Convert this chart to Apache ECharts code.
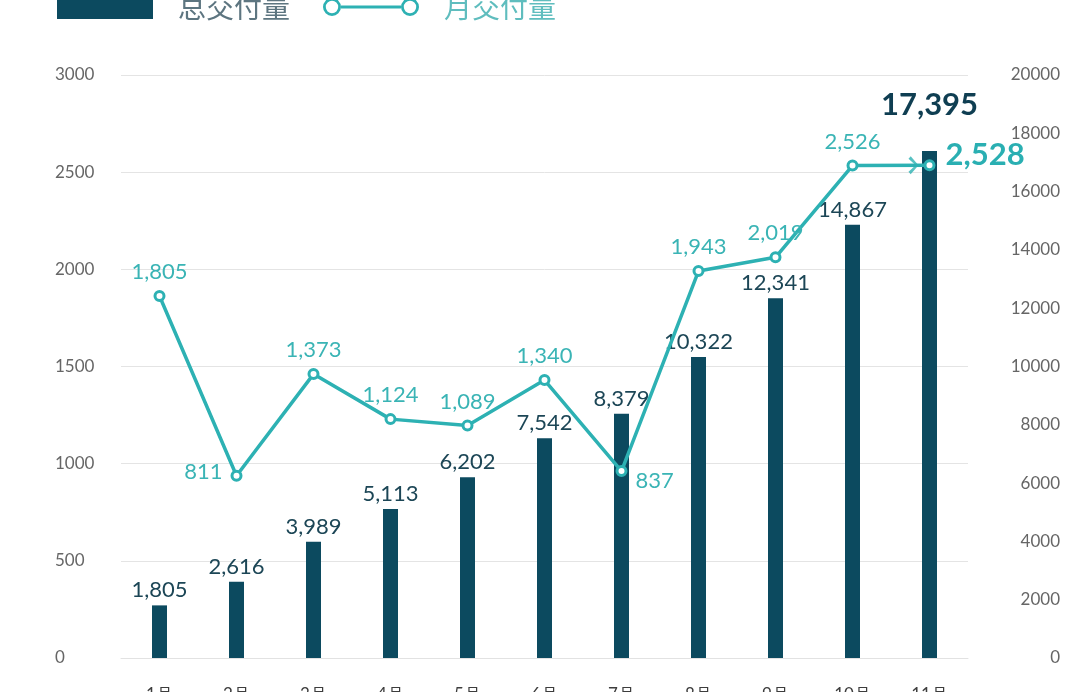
<!DOCTYPE html>
<html>
<head>
<meta charset="utf-8">
<script src="https://cdn.jsdelivr.net/npm/echarts@6/dist/echarts.min.js"></script>
<style>
html,body{margin:0;padding:0;background:#fff;}
#chart{width:1080px;height:692px;}
</style>
</head>
<body>
<div id="chart"></div>
<script>
// ---- data ----
const months = ['1月','2月','3月','4月','5月','6月','7月','8月','9月','10月','11月'];
const totalDeliveries = [1805, 2616, 3989, 5113, 6202, 7542, 8379, 10322, 12341, 14867, 17395];
const monthlyDeliveries = [1805, 811, 1373, 1124, 1089, 1340, 837, 1943, 2019, 2526, 2528];
const seriesNames = ['总交付量', '月交付量'];
const leftAxisRange = [0, 3000, 500];
const rightAxisRange = [0, 20000, 2000];

// ---- styles ----
const BAR_COLOR = '#0c4a5f';
const LINE_COLOR = '#2db1b3';
const NUM_FONT = 'Lato, "Noto Sans", sans-serif';
const CJK_FONT = '"Noto Sans CJK SC", sans-serif';
const fmt = v => Number(v).toLocaleString('en-US');

const ringIcon = 'path://M0,9 A9,9 0 1 1 18,9 A9,9 0 1 1 0,9 Z M2.8,9 A6.2,6.2 0 1 0 15.2,9 A6.2,6.2 0 1 0 2.8,9 Z ' +
  'M18,7.4 L78,7.4 L78,10.6 L18,10.6 Z ' +
  'M78,9 A9,9 0 1 1 96,9 A9,9 0 1 1 78,9 Z M80.8,9 A6.2,6.2 0 1 0 93.2,9 A6.2,6.2 0 1 0 80.8,9 Z';
const chevronIcon = 'path://M0,2.4 L2.2,0 L10,9 L2.2,18 L0,15.6 L7.2,9 Z';

const lastIdx = totalDeliveries.length - 1;
const barData = totalDeliveries.map((v, i) => i === lastIdx
  ? { value: v, label: { fontSize: 31, fontWeight: 'bold', color: '#0f3e52', distance: 30 } }
  : v);

const lineLabelOverrides = {
  1: { position: 'left', distance: 8, offset: [0, -4] },
  6: { position: 'right', distance: 8, offset: [0, 10] },
  10: { position: 'right', distance: 10, offset: [0, -10], fontSize: 31, fontWeight: 'bold', color: '#2aafb2' }
};
const lineData = monthlyDeliveries.map((v, i) => lineLabelOverrides[i]
  ? { value: v, label: lineLabelOverrides[i] }
  : v);

const chart = echarts.init(document.getElementById('chart'), null, { renderer: 'canvas' });
chart.setOption({
  backgroundColor: '#ffffff',
  animation: false,
  legend: {
    left: 57,
    top: -7,
    padding: 0,
    itemWidth: 96,
    itemHeight: 24,
    itemGap: 33,
    symbolKeepAspect: true,
    selectedMode: false,
    textStyle: { fontSize: 28, fontFamily: CJK_FONT, padding: [0, 0, 0, 20] },
    data: [
      { name: seriesNames[0], icon: 'rect', textStyle: { color: '#5d7580' } },
      { name: seriesNames[1], icon: ringIcon, itemStyle: { color: LINE_COLOR, borderWidth: 0 }, textStyle: { color: '#5fbdbe' } }
    ]
  },
  grid: { left: 121, right: 112, top: 75, bottom: 34, outerBoundsMode: 'none', containLabel: false },
  xAxis: {
    type: 'category',
    data: months,
    boundaryGap: true,
    axisTick: { show: false },
    axisLine: { lineStyle: { color: '#e2e2e2', width: 1 } },
    axisLabel: { color: '#3d3d3d', fontSize: 17, margin: 28, fontFamily: NUM_FONT }
  },
  yAxis: [
    {
      type: 'value', position: 'left',
      min: leftAxisRange[0], max: leftAxisRange[1], interval: leftAxisRange[2],
      axisLine: { show: false }, axisTick: { show: false },
      splitLine: { lineStyle: { color: '#e4e4e4', width: 1 } },
      axisLabel: { color: '#666666', fontSize: 17, fontFamily: NUM_FONT, align: 'left', margin: 66, formatter: v => String(v) }
    },
    {
      type: 'value', position: 'right',
      min: rightAxisRange[0], max: rightAxisRange[1], interval: rightAxisRange[2],
      axisLine: { show: false }, axisTick: { show: false },
      splitLine: { show: false },
      axisLabel: { color: '#666666', fontSize: 17, fontFamily: NUM_FONT, align: 'right', margin: 92, formatter: v => String(v) }
    },
    {
      // hidden scale that reproduces where the monthly line sits in the reference
      type: 'value', show: false, min: -197, max: 3027,
      splitLine: { show: false }
    }
  ],
  series: [
    {
      name: seriesNames[0],
      type: 'bar',
      yAxisIndex: 1,
      data: barData,
      barWidth: 15,
      itemStyle: { color: BAR_COLOR },
      label: {
        show: true, position: 'top', distance: 4,
        color: '#1c4656', fontSize: 22, fontFamily: NUM_FONT,
        formatter: p => fmt(p.value)
      },
      z: 2
    },
    {
      name: seriesNames[1],
      type: 'line',
      yAxisIndex: 2,
      data: lineData,
      symbol: 'circle',
      symbolSize: 9,
      itemStyle: { color: '#ffffff', borderColor: LINE_COLOR, borderWidth: 3 },
      lineStyle: { color: LINE_COLOR, width: 3.5 },
      label: {
        show: true, position: 'top', distance: 7,
        color: '#3ab4b5', fontSize: 22, fontFamily: NUM_FONT,
        formatter: p => fmt(p.value)
      },
      z: 3
    },
    {
      // arrow head drawn just before the last monthly point
      type: 'scatter',
      yAxisIndex: 2,
      silent: true,
      data: [[months[lastIdx], monthlyDeliveries[lastIdx]]],
      symbol: chevronIcon,
      symbolSize: [10, 18],
      symbolOffset: [-16, 0],
      itemStyle: { color: LINE_COLOR },
      z: 4
    }
  ]
});
</script>
</body>
</html>
